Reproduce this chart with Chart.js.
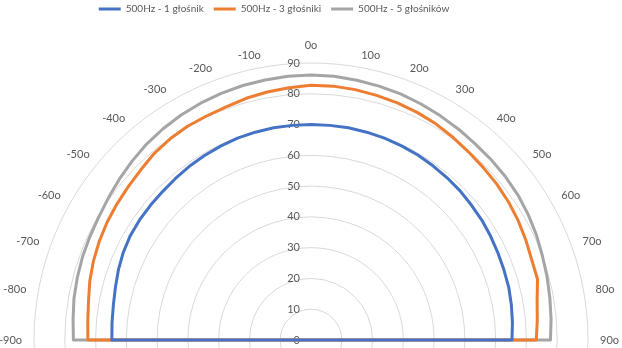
<!DOCTYPE html>
<html>
<head>
<meta charset="utf-8">
<script src="https://cdn.jsdelivr.net/npm/chart.js@4.4.1/dist/chart.umd.min.js"></script>
<style>
  html, body { margin: 0; padding: 0; background: #fff; }
  #frame { width: 622px; height: 348px; overflow: hidden; position: relative; }
  #box { position: absolute; left: 0; top: -6px; width: 622px; height: 662px; }
</style>
</head>
<body>
<div id="frame"><div id="box"><canvas id="chart"></canvas></div></div>
<script>
// 72 categories, 5 degrees apart, clockwise from the top; the lower half is cropped away
const rightLabels = ['0o', '', '10o', '', '20o', '', '30o', '', '40o', '', '50o', '', '60o', '', '70o', '', '80o', '', '90o'];
const lowerLabels = ['', '', '', '', '', '', '', '', '', '', '', '', '', '', '', '', '', '', '', '', '', '', '', '', '', '', '', '', '', '', '', '', '', '', ''];
const leftLabels = ['-90o', '', '-80o', '', '-70o', '', '-60o', '', '-50o', '', '-40o', '', '-30o', '', '-20o', '', '-10o', ''];

// 0o .. 90o
const oneSpeakerRight = [70, 70, 70, 69.9, 69.8, 69.6, 69.4, 69.1, 68.8, 68.5, 68.1, 67.8, 67.4, 67, 66.7, 66.5, 66.1, 65.7, 65.3];
const threeSpeakersRight = [82.8, 82.8, 82.6, 82.3, 82, 81.6, 81.1, 80.4, 79.7, 79.2, 78.8, 78.3, 77.7, 77, 76.3, 76.2, 74.6, 73.8, 73.2];
const fiveSpeakersRight = [86.1, 86, 85.7, 85.4, 85.1, 84.6, 84.1, 83.6, 83.1, 82.8, 82.5, 82.1, 81.5, 80.8, 80, 79.4, 78.8, 78.3, 77.8];
// -90o .. -5o
const oneSpeakerLeft = [64.7, 64.9, 65.2, 65.8, 66.6, 67.3, 67.8, 68, 68.1, 68.2, 68.5, 68.9, 69.2, 69.5, 69.8, 69.9, 70, 70];
const threeSpeakersLeft = [72.5, 72.8, 73.4, 74.4, 75.2, 75.9, 76.5, 77, 77.5, 78.2, 79.2, 79.8, 80.2, 80.3, 80.6, 81.3, 81.8, 82.3];
const fiveSpeakersLeft = [77.2, 77.6, 78.2, 78.6, 79, 79.3, 79.7, 80.4, 81.3, 82.2, 83.1, 83.8, 84.4, 84.9, 85.3, 85.6, 85.8, 86];
// 95o .. 265o: no measurement, every line runs to the centre
const lowerHalf = [0, 0, 0, 0, 0, 0, 0, 0, 0, 0, 0, 0, 0, 0, 0, 0, 0, 0, 0, 0, 0, 0, 0, 0, 0, 0, 0, 0, 0, 0, 0, 0, 0, 0, 0];

const seriesNames = ['500Hz - 1 głośnik', '500Hz - 3 głośniki', '500Hz - 5 głośników'];
const seriesColors = ['#4472C4', '#ED7D31', '#A5A5A5'];
const radialTicks = { min: 0, max: 90, step: 10 };

const angleLabels = [...rightLabels, ...lowerLabels, ...leftLabels];
const seriesValues = [
  [...oneSpeakerRight, ...lowerHalf, ...oneSpeakerLeft],
  [...threeSpeakersRight, ...lowerHalf, ...threeSpeakersLeft],
  [...fiveSpeakersRight, ...lowerHalf, ...fiveSpeakersLeft]
];

const textColor = '#595959';
const fontFamily = 'Lato, "Liberation Sans", sans-serif';
Chart.defaults.font.family = fontFamily;
Chart.defaults.font.size = 11;
Chart.defaults.color = textColor;

// radial value labels sit left of the vertical axis, "0" included
const axisNumbers = {
  id: 'axisNumbers',
  beforeDatasetsDraw(chart) {
    const r = chart.scales.r;
    const ctx = chart.ctx;
    ctx.save();
    ctx.font = '11px ' + fontFamily;
    ctx.fillStyle = textColor;
    ctx.textAlign = 'right';
    ctx.textBaseline = 'middle';
    r.ticks.forEach(t => {
      const d = r.getDistanceFromCenterForValue(t.value);
      ctx.fillText(String(t.value), r.xCenter - 11, r.yCenter - d);
    });
    ctx.restore();
  }
};

// angle labels the way the spreadsheet places them: vertically centred,
// pushed sideways away from the vertical axis
const angleText = {
  id: 'angleText',
  beforeDatasetsDraw(chart) {
    const r = chart.scales.r;
    const ctx = chart.ctx;
    ctx.save();
    ctx.font = '11px ' + fontFamily;
    ctx.fillStyle = textColor;
    angleLabels.forEach((text, i) => {
      if (!text) return;
      const p = r.getPointPosition(i, r.drawingArea + 12);
      const dx = p.x - r.xCenter;
      if (Math.abs(dx) < 1) {
        ctx.textAlign = 'center';
        ctx.textBaseline = 'bottom';
      } else {
        ctx.textAlign = dx > 0 ? 'left' : 'right';
        ctx.textBaseline = 'middle';
      }
      ctx.fillText(text, p.x, p.y);
    });
    ctx.restore();
  }
};

// the legend sits left of the middle, as in the original layout
const legendShift = {
  id: 'legendShift',
  afterLayout(chart) {
    chart.legend.right -= 74;
  }
};

const datasets = seriesValues.map((values, i) => ({
  label: seriesNames[i],
  data: values,
  borderColor: seriesColors[i],
  backgroundColor: seriesColors[i],
  borderWidth: 3,
  borderJoinStyle: 'round',
  pointRadius: 0,
  pointHoverRadius: 0,
  fill: false,
  tension: 0
}));

new Chart(document.getElementById('chart'), {
  type: 'radar',
  data: { labels: angleLabels, datasets: datasets },
  options: {
    responsive: true,
    maintainAspectRatio: false,
    animation: false,
    layout: { padding: { left: 34, right: 34, top: 0, bottom: 0 } },
    plugins: {
      tooltip: { enabled: false },
      legend: {
        position: 'top',
        labels: {
          boxWidth: 22,
          boxHeight: 3,
          padding: 10,
          color: textColor,
          font: { size: 10 },
          generateLabels(chart) {
            return Chart.defaults.plugins.legend.labels.generateLabels(chart)
              .map(item => ({ ...item, lineWidth: 0 }));
          }
        }
      }
    },
    scales: {
      r: {
        min: radialTicks.min,
        max: radialTicks.max,
        ticks: { stepSize: radialTicks.step, display: false },
        angleLines: { display: false },
        grid: { color: '#D9D9D9', lineWidth: 1, circular: true },
        pointLabels: { display: false }
      }
    }
  },
  plugins: [axisNumbers, angleText, legendShift]
});
</script>
</body>
</html>
